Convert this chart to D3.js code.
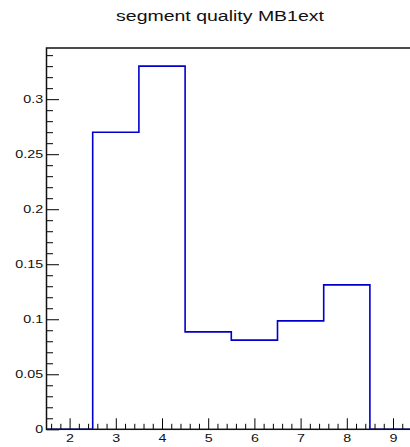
<!DOCTYPE html>
<html>
<head>
<meta charset="utf-8">
<script src="https://cdn.jsdelivr.net/npm/d3@7"></script>
<style>
  body { margin: 0; background: #fff; }
  svg { display: block; font-family: "Liberation Sans", Arial, sans-serif; }
</style>
</head>
<body>
<div id="chart-area"></div>
<script>
// histogram bins (centres) and normalised contents
const binCenters = [2, 3, 4, 5, 6, 7, 8, 9, 10];
const binValues = [0, 0.27, 0.33, 0.0885, 0.081, 0.0985, 0.1312, 0, 0];
const xTicks = [2, 3, 4, 5, 6, 7, 8, 9];
const yTicks = [0, 0.05, 0.1, 0.15, 0.2, 0.25, 0.3];
const TITLE = "segment quality MB1ext";

const WIDTH = 410;
const HEIGHT = 447;
const FRAME = { left: 46.5, top: 48, right: 462.3, bottom: 429.3 };
// ROOT's text comes out wider than plain Arial
const TEXT_STRETCH = 1.3;

const svg = d3.select('#chart-area')
  .append('svg')
  .attr('width', WIDTH)
  .attr('height', HEIGHT);

const xScale = d3.scaleLinear().domain([1.5, 10.5]).range([FRAME.left, FRAME.right]);
const yScale = d3.scaleLinear().domain([0, d3.max(binValues) * 1.05]).range([FRAME.bottom, FRAME.top]);

// title
svg.append('text')
  .attr('transform', `translate(220,21) scale(${TEXT_STRETCH},1)`)
  .attr('text-anchor', 'middle')
  .attr('font-size', '15px')
  .attr('fill', '#111')
  .text(TITLE);

// histogram outline as a step line over the bin edges
const halfWidth = 0.5;
const steps = binCenters.map((c, i) => [c - halfWidth, binValues[i]]);
steps.push([binCenters[binCenters.length - 1] + halfWidth, 0]);
steps.unshift([binCenters[0] - halfWidth, 0]);

const line = d3.line()
  .x(d => xScale(d[0]))
  .y(d => yScale(d[1]))
  .curve(d3.curveStepAfter);

svg.append('path')
  .datum(steps)
  .attr('d', line)
  .attr('fill', 'none')
  .attr('stroke', '#0000cc')
  .attr('stroke-width', 1.6);

// minor ticks (ROOT style, pointing inward)
const yMinor = d3.range(0, 0.345, 0.01).filter(v => !yTicks.some(t => Math.abs(t - v) < 1e-6));
const xMinor = d3.range(1.6, 10.45, 0.2).filter(v => !xTicks.some(t => Math.abs(t - v) < 1e-6));

const yMinorAxis = svg.append('g')
  .attr('transform', `translate(${FRAME.left},0)`)
  .call(d3.axisLeft(yScale).tickValues(yMinor).tickSizeInner(-6.5).tickSizeOuter(0).tickFormat(''));
yMinorAxis.select('.domain').remove();

const xMinorAxis = svg.append('g')
  .attr('transform', `translate(0,${FRAME.bottom})`)
  .call(d3.axisBottom(xScale).tickValues(xMinor).tickSizeInner(-5.5).tickSizeOuter(0).tickFormat(''));
xMinorAxis.select('.domain').remove();

// major ticks with labels
const yAxis = svg.append('g')
  .attr('transform', `translate(${FRAME.left},0)`)
  .call(d3.axisLeft(yScale).tickValues(yTicks).tickSizeInner(-12.5).tickSizeOuter(0)
    .tickPadding(2.6).tickFormat(d => String(+d.toFixed(2))));
yAxis.select('.domain').remove();

const xAxis = svg.append('g')
  .attr('transform', `translate(0,${FRAME.bottom})`)
  .call(d3.axisBottom(xScale).tickValues(xTicks).tickSizeInner(-11).tickSizeOuter(0)
    .tickPadding(5).tickFormat(d3.format('d')));
xAxis.select('.domain').remove();

svg.selectAll('.tick line').attr('stroke', '#000').attr('stroke-width', 1);
svg.selectAll('.tick text')
  .attr('font-size', '11px')
  .attr('font-family', '"Liberation Sans", Arial, sans-serif')
  .attr('fill', '#111')
  .attr('transform', `scale(${TEXT_STRETCH},1)`);

// frame
svg.append('rect')
  .attr('x', FRAME.left)
  .attr('y', FRAME.top)
  .attr('width', FRAME.right - FRAME.left)
  .attr('height', FRAME.bottom - FRAME.top)
  .attr('fill', 'none')
  .attr('stroke', '#111')
  .attr('stroke-width', 1.5);
</script>
</body>
</html>
